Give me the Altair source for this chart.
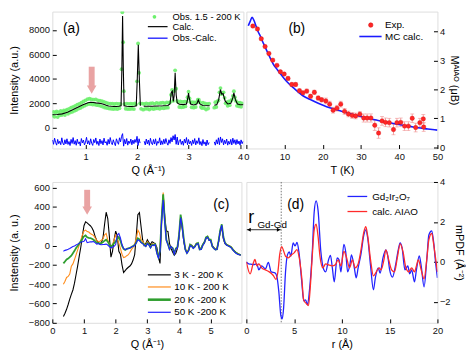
import altair as alt
import pandas as pd
import numpy as np

FONT = "Liberation Sans"

# ---------------- Panel (a): diffraction, Obs. 1.5 - 200 K ----------------
a_obs = [
    (0.36, 1000), (0.38, 1300), (0.40, 900), (0.42, 1250), (0.44, 1350), (0.46, 880), (0.48, 1280), (0.50, 1020), (0.52, 1380), (0.54, 1050),
    (0.56, 1300), (0.58, 1420), (0.60, 1050), (0.62, 1400), (0.64, 1480), (0.66, 1150), (0.68, 1550), (0.70, 1250), (0.72, 1650), (0.74, 1300),
    (0.76, 1720), (0.78, 1380), (0.80, 1800), (0.82, 1450), (0.84, 1900), (0.86, 1550), (0.88, 1950), (0.90, 1620), (0.92, 2050), (0.94, 1720),
    (0.96, 2150), (0.98, 1800), (1.00, 2250), (1.02, 1880), (1.04, 2350), (1.06, 1950), (1.08, 2380), (1.10, 1950), (1.12, 2320), (1.14, 1900),
    (1.16, 2300), (1.18, 1900), (1.20, 2330), (1.22, 1850), (1.24, 2250), (1.26, 1830), (1.28, 2220), (1.30, 1780), (1.32, 2180), (1.34, 1720),
    (1.36, 2120), (1.38, 1650), (1.40, 2050), (1.42, 1620), (1.44, 2000), (1.46, 1580), (1.48, 1980), (1.50, 1560), (1.52, 1970), (1.54, 1540),
    (1.56, 1950), (1.58, 1560), (1.60, 1980), (1.62, 1540), (1.64, 1950), (1.66, 1600), (1.68, 1950), (1.70, 4800), (1.715, 9450), (1.73, 7000),
    (1.745, 3000), (1.76, 1950), (1.78, 1560), (1.80, 1980), (1.82, 1530), (1.84, 1960), (1.86, 1540), (1.88, 1970), (1.90, 1560), (1.92, 1950),
    (1.94, 1530), (1.96, 2000), (1.98, 1900), (2.00, 3800), (2.02, 6900), (2.04, 4500), (2.06, 2000), (2.08, 1550), (2.10, 1980), (2.12, 1480),
    (2.14, 1950), (2.16, 1550), (2.18, 2000), (2.20, 1560), (2.22, 1960), (2.24, 1500), (2.26, 1990), (2.28, 1580), (2.30, 2020), (2.32, 1540),
    (2.34, 1960), (2.36, 1580), (2.38, 2040), (2.40, 1600), (2.42, 2000), (2.44, 1550), (2.46, 2030), (2.48, 1620), (2.50, 2060), (2.52, 1600),
    (2.54, 2010), (2.56, 1640), (2.58, 2080), (2.60, 1650), (2.62, 2040), (2.64, 2100), (2.66, 2700), (2.68, 3100), (2.70, 2200), (2.72, 3000),
    (2.74, 4700), (2.76, 3200), (2.78, 2200), (2.80, 2100), (2.82, 1700), (2.84, 2150), (2.86, 1680), (2.88, 2120), (2.90, 1700), (2.92, 2140),
    (2.94, 1750), (2.96, 2150), (2.98, 2500), (3.00, 2950), (3.02, 2400), (3.04, 2100), (3.06, 1680), (3.08, 2100), (3.10, 1650), (3.12, 2080),
    (3.14, 1700), (3.16, 2100), (3.18, 2300), (3.20, 2300), (3.22, 2100), (3.24, 1700), (3.26, 1620), (3.28, 2050), (3.30, 1620), (3.32, 2000),
    (3.34, 1500), (3.36, 1950), (3.38, 1580), (3.40, 1980),
    (3.50, 1650), (3.52, 2100), (3.54, 1700), (3.56, 2150), (3.58, 2250), (3.60, 2900), (3.62, 3250), (3.64, 2750), (3.66, 2850), (3.68, 2900),
    (3.70, 2450), (3.72, 2000), (3.74, 2100), (3.76, 1800), (3.78, 2150), (3.80, 1850), (3.82, 2200), (3.84, 2300), (3.86, 2600), (3.88, 3000),
    (3.90, 2500), (3.92, 2200), (3.94, 1800), (3.96, 2050), (3.98, 1750), (4.00, 2050), (4.02, 1720), (4.04, 2000),
]

a_calc_q1 = [0.356, 0.45, 0.55, 0.65, 0.75, 0.85, 0.95, 1.05, 1.10, 1.15, 1.20, 1.25, 1.30, 1.35, 1.40, 1.45, 1.50,
             1.55, 1.60, 1.65, 1.69, 1.705, 1.72, 1.735, 1.75, 1.80, 1.85, 1.90, 1.95, 1.985, 2.005, 2.025, 2.045, 2.065]
a_calc_i1 = [1070, 1090, 1140, 1280, 1470, 1680, 1880, 2050, 2090, 2070, 2040, 2020, 1990, 1920, 1840, 1790, 1760,
             1750, 1750, 1760, 1800, 4600, 9150, 4600, 1800, 1760, 1750, 1750, 1760, 1800, 4000, 6800, 4000, 1800]
a_calc_q2 = [2.13, 2.30, 2.50, 2.60, 2.64, 2.665, 2.685, 2.705, 2.72, 2.74, 2.76, 2.78, 2.82, 2.90, 2.96, 2.985,
             3.00, 3.015, 3.04, 3.10, 3.16, 3.19, 3.22, 3.28, 3.41]
a_calc_i2 = [1760, 1770, 1800, 1830, 1950, 2900, 3000, 2150, 2600, 4500, 2700, 2050, 1920, 1900, 1950, 2400,
             2850, 2400, 1950, 1870, 1950, 2280, 1950, 1830, 1800]
a_calc_q3 = [3.50, 3.55, 3.585, 3.62, 3.645, 3.67, 3.71, 3.76, 3.82, 3.86, 3.88, 3.91, 3.95, 4.00, 4.065]
a_calc_i3 = [1850, 1900, 2300, 3120, 2750, 2800, 2200, 1950, 2000, 2450, 2850, 2300, 1950, 1880, 1880]

a_diff_start = [0.36, 2.14, 3.50]
a_diff_step = 0.02
a_diff_1 = [
    -1000, -1350, -850, -1200, -1420, -950, -1300, -1100, -1380, -820,
    -1250, -1400, -980, -1320, -900, -1360, -1120, -1450, -950, -1280,
    -800, -1340, -1050, -1430, -930, -1300, -1150, -1480, -880, -1240,
    -1000, -1400, -1180, -780, -1330, -1060, -1390, -900, -1260, -1440,
    -960, -1220, -830, -1350, -1100, -1450, -920, -1300, -1050, -1400,
    -850, -1240, -1130, -1430, -950, -1330, -800, -1200, -1380, -980,
    -1260, -1460, -900, -1150, -1350, -820, -1150, -700, -480, -1500,
    -950, -1320, -880, -1420, -1080, -1280, -920, -1390, -1000, -1300,
    -950, -1200, -700, -1450, -900, -1250,
]
a_diff_2 = [
    -1100, -1400, -920, -1320, -1000, -1430, -860, -1250, -1380, -960,
    -1330, -900, -1440, -1120, -1260, -820, -1400, -1060, -1360, -940,
    -1300, -880, -1220, -1420, -980, -1280, -800, -1150, -650, -1000,
    -550, -1350, -760, -1400, -1050, -950, -1360, -1080, -1430, -930,
    -1250, -800, -1380, -960, -1320, -1100, -1440, -990, -1300, -880,
    -1400, -1060, -1280, -820, -1380, -1120, -1460, -960, -1340, -1150,
    -1480, -1000, -1380, -1200,
]
a_diff_3 = [
    -1150, -1420, -980, -1330, -820, -1380, -750, -1200, -900, -1400,
    -1020, -1300, -920, -1420, -1100, -1340, -950, -1400, -850, -1280,
    -980, -1380, -960, -1320, -1080, -1420, -990, -1300, -1100,
]
a_arrow_q = [1.12]
a_arrow_top = [5000]
a_arrow_neck = [3350]
a_arrow_head = [3130]

# ---------------- Panel (b): M_AIAO vs T ----------------
b_T = [1.7, 2.9, 3.9, 4.9, 5.9, 6.9, 8.0, 8.9, 9.9, 10.9, 11.9, 12.9, 13.9, 14.8, 15.8, 16.8, 17.8, 18.8, 19.7, 20.8,
       21.8, 22.7, 23.7, 24.7, 25.7, 26.7, 27.7, 28.6, 29.7, 30.7, 31.6, 32.6, 33.6, 34.6, 35.5, 36.4, 37.4, 38.5, 39.4,
       40.4, 41.4, 42.4, 43.4, 44.3, 45.4, 46.3, 46.4]
b_M = [4.19, 4.09, 3.75, 3.48, 3.24, 3.01, 2.83, 2.61, 2.53, 2.38, 2.17, 2.17, 1.95, 1.88, 1.94, 1.76, 1.90, 1.70, 1.64, 1.60,
       1.49, 1.28, 1.35, 1.49, 1.24, 1.15, 1.10, 1.08, 1.14, 1.01, 1.01, 1.01, 0.76, 0.49, 0.91, 0.86, 0.85, 0.61, 0.85,
       0.86, 0.73, 0.73, 1.00, 0.68, 0.85, 0.98, 0.70]
b_err = [0.04, 0.04, 0.04, 0.04, 0.04, 0.04, 0.04, 0.04, 0.04, 0.07, 0.07, 0.07, 0.07, 0.07, 0.07, 0.07, 0.07, 0.07, 0.07, 0.10,
         0.10, 0.10, 0.10, 0.10, 0.10, 0.10, 0.10, 0.10, 0.10, 0.14, 0.14, 0.14, 0.18, 0.18, 0.15, 0.15, 0.15, 0.18, 0.15,
         0.15, 0.15, 0.15, 0.15, 0.15, 0.15, 0.15, 0.15]
b_mc_T = [0.5, 1.0, 1.5, 2.0, 2.5, 3.0, 3.7, 4.5, 5.4, 6.2, 7.1, 8.0, 8.8, 10.5, 12.7, 14.8, 17.0, 19.1, 21.0, 23.4,
          25.5, 27.7, 30.0, 32.0, 34.0, 36.3, 38.5, 40.6, 42.8, 44.9, 47.5, 50.0]
b_mc_M = [4.20, 4.35, 4.49, 4.38, 4.20, 4.02, 3.83, 3.58, 3.32, 3.10, 2.86, 2.70, 2.56, 2.28, 2.01, 1.78, 1.63, 1.50, 1.40, 1.30,
          1.22, 1.14, 1.06, 0.99, 0.94, 0.875, 0.82, 0.77, 0.72, 0.67, 0.63, 0.59]

# ---------------- Panel (c): difference patterns ----------------
c_q = list(np.round(np.arange(0.35, 5.951, 0.05), 2))
c_3K = [
    -735, -700, -660, -610, -555, -505, -460, -390, -300, -210,
    -110, -15, 100, 205, 245, 235, 220, 205, 185, 150,
    95, 55, 30, 20, 30, 80, 220, 345, 280, 100,
    -120, -60, 60, 150, 100, -60, -90, -200, -280, -260,
    -240, -225, -212, -190, -150, -94, 100, 320, 340, 200,
    60, 0, 20, 60, 30, 10, 40, 30, 15, -20,
    -120, -185, 250, 520, 300, 150, 145, 20, -30, -70,
    -100, -80, -30, 80, 270, 180, 40, -40, -70, -50,
    0, 5, -20, -10, 20, 15, -30, -25, 10, 40,
    70, 90, 55, 50, 0, -20, -40, -30, 40, 140,
    190, 70, 20, 5, 0, -10, -20, -45, -55, -70,
    -85, -90, -95,
]
c_10K = [
    -400, -370, -330, -320, -295, -215, -190, -145, -95, -45,
    5, 55, 110, 150, 160, 145, 140, 125, 115, 105,
    80, 55, 40, 45, 55, 70, 110, 125, 60, 15,
    -25, 10, 60, 110, 70, 25, -30, -90, -125, -120,
    -105, -95, -70, -40, -20, 20, 70, 160, 130, 60,
    45, 20, 5, 40, 15, -15, 20, 10, 20, -60,
    -110, -40, 300, 550, 280, 60, 20, -40, -20, -30,
    -70, -40, -20, 100, 300, 200, 60, -30, -70, -40,
    10, 0, -25, -5, 25, 20, -35, -30, 5, 30,
    80, 95, 60, 55, -5, -25, -42, -35, 45, 150,
    200, 80, 25, 10, 5, -5, -15, -40, -60, -75,
    -80, -95, -100,
]
c_20K = [
    -185, -165, -145, -135, -120, -105, -80, -55, -25, -5,
    20, 45, 70, 95, 105, 85, 80, 78, 70, 60,
    45, 30, 25, 22, 25, 35, 50, 60, 40, 10,
    -10, 5, 25, 40, 70, 90, 50, -5, -35, -45,
    -35, -30, -25, -15, -5, 5, 30, 75, 65, 35,
    25, 10, -5, 25, 10, -20, 10, 5, 15, -70,
    -120, -50, 280, 530, 260, 60, 15, -35, -15, -25,
    -80, -30, -15, 110, 320, 220, 70, -42, -76, -50,
    9, -5, -25, -10, 20, 26, -40, -35, 9, 30,
    85, 94, 60, 60, -8, -30, -42, -38, 50, 160,
    220, 90, 30, 9, 0, -8, -20, -42, -60, -76,
    -85, -93, -98,
]
c_50K = [
    -58, -50, -45, -38, -30, -20, -10, -5, 5, 15,
    25, 35, 40, 45, 70, 30, 35, 40, 38, 42,
    30, 15, 20, 12, 8, 10, 12, 15, 5, -10,
    -25, -15, -8, 10, 110, 125, 80, 10, -30, -42,
    -35, -30, -25, -15, -8, 0, 30, 60, 50, 30,
    20, 5, -8, 20, 5, -25, 5, 0, 10, -80,
    -130, -60, 250, 470, 240, 50, 10, -42, -10, -30,
    -90, -35, -25, 100, 290, 190, 50, -45, -80, -55,
    0, -10, -30, -15, 15, 20, -42, -40, 0, 25,
    75, 85, 55, 50, -10, -30, -45, -40, 40, 150,
    210, 80, 25, 5, -5, -10, -25, -45, -65, -80,
    -90, -95, -100,
]
c_names = ["\u00a03 K - 200 K", "10 K - 200 K", "20 K -200 K", "50 K -200 K"]
c_colors = ["#000000", "#ff8c1a", "#2e9e2e", "#1f1fff"]
c_widths = [1.1, 1.1, 1.8, 1.1]
c_arrow_q = [1.10]
c_arrow_top = [577]
c_arrow_neck = [395]
c_arrow_head = [362]

# ---------------- Panel (d): mPDF ----------------
d_exp = [(0, 0), (0.25, -0.1), (0.55, -0.12), (0.85, -0.13), (1.1, -0.1), (1.3, -0.4), (1.6, -0.2), (2.0, -0.35), (2.3, -0.02),
         (2.6, -0.5), (3.0, -0.55), (3.2, -0.75), (3.4, -1.5), (3.6, -2.65), (3.75, -2.85), (3.9, -2.3), (4.1, -0.5), (4.3, 0.35),
         (4.5, 0.5), (4.65, 0.28), (4.9, 0.95), (5.1, 0.8), (5.3, 0.97), (5.5, 0.5), (5.8, -1.0), (6.0, -1.95), (6.2, -1.9),
         (6.4, -2.15), (6.6, -1.45), (6.9, 0.5), (7.1, 2.5), (7.3, 3.05), (7.5, 2.6), (7.8, 0.5), (8.1, -0.38), (8.3, -0.5),
         (8.6, 0.1), (8.8, 0.33), (9.0, -0.3), (9.2, -1.0), (9.5, 0.2), (9.7, 0.1), (9.9, -0.5), (10.2, 0.88), (10.4, 0.5),
         (10.6, -0.5), (10.85, -0.1), (11.0, 0.35), (11.3, -0.3), (11.5, -0.8), (11.7, -0.3), (12.0, 0.4), (12.3, 1.35),
         (12.5, 1.6), (12.7, 1.2), (13.0, -0.2), (13.3, -1.4), (13.5, -0.8), (13.8, -0.3), (14.0, -0.56), (14.3, 0.2),
         (14.6, 0.6), (14.8, 0.3), (15.0, -0.4), (15.3, -0.76), (15.6, -0.2), (15.9, 0.6), (16.1, 0.95), (16.3, 0.7),
         (16.6, -0.4), (16.9, -0.2), (17.1, -0.6), (17.3, -0.4), (17.6, -1.0), (17.8, -0.4), (18.1, 0.3), (18.3, -0.2),
         (18.6, -1.25), (18.9, 0.2), (19.1, 1.35), (19.4, 1.55), (19.6, 1.0), (19.8, 0.0), (20.0, -0.8)]
d_calc = [(0, 0), (0.4, -0.6), (0.7, -0.1), (0.9, 0.12), (1.1, -0.2), (1.3, -0.1), (1.6, -0.3), (2.0, -0.4), (2.4, -0.5),
          (2.8, -0.67), (3.1, -0.87), (3.3, -0.5), (3.5, 0.4), (3.7, 0.76), (3.9, 0.55), (4.1, 0.28), (4.4, 0.2), (4.7, 0.35),
          (5.0, 0.45), (5.3, 0.61), (5.5, 0.3), (5.8, -0.8), (6.0, -1.9), (6.3, -2.1), (6.5, -2.19), (6.7, -1.2), (6.9, 0.3),
          (7.1, 1.6), (7.3, 1.89), (7.5, 1.3), (7.7, 0.3), (8.0, -0.3), (8.3, -0.1), (8.6, -0.15), (9.0, -0.2), (9.3, -0.15),
          (9.6, 0.1), (9.9, -0.2), (10.2, 0.53), (10.5, 0.2), (10.8, -0.3), (11.1, 0.1), (11.4, -0.3), (11.7, -0.1),
          (12.0, 0.6), (12.3, 1.5), (12.5, 1.76), (12.7, 1.3), (13.0, 0.1), (13.3, -0.7), (13.6, -0.5), (13.9, -0.3),
          (14.1, -0.4), (14.4, 0.1), (14.6, 0.6), (14.9, 0.1), (15.2, -0.4), (15.5, -0.5), (15.8, 0.2), (16.1, 0.9),
          (16.4, 0.5), (16.7, -0.3), (17.0, -0.5), (17.3, -0.3), (17.6, -0.5), (17.8, -0.2), (18.0, 0.1), (18.3, -0.4),
          (18.6, -0.85), (18.9, 0.2), (19.1, 1.1), (19.4, 1.43), (19.6, 0.9), (19.8, 0.2), (20.0, -0.5)]
d_r_gdgd = 3.65
d_arrow_y = 1.61

PINK = "#e9a3a3"


def axis(orient, values, title, fmt=None, label_pad=3, title_pad=4):
    kw = dict(values=values, title=title, orient=orient, offset=-4, tickSize=4, domain=False, grid=False,
              labelPadding=label_pad, titlePadding=title_pad, tickColor="#000", tickWidth=1,
              labelColor="#111", titleColor="#000", labelFont=FONT, titleFont=FONT, labelFontSize=9.5,
              titleFontSize=11, titleFontWeight="normal", labelFlush=False, labelOverlap=False)
    if fmt:
        kw["format"] = fmt
    return alt.Axis(**kw)


def make_xy(xdom, ydom, xax, yax):
    def X(f):
        return alt.X(f"{f}:Q", scale=alt.Scale(domain=xdom, nice=False, zero=False), axis=xax)

    def Y(f):
        return alt.Y(f"{f}:Q", scale=alt.Scale(domain=ydom, nice=False, zero=False), axis=yax)
    return X, Y


one = pd.DataFrame({"k": [0]})


def txt(s, x, y, size=10, align="left", baseline="middle", style="normal"):
    return alt.Chart(one).mark_text(text=s, align=align, baseline=baseline, font=FONT, fontSize=size,
                                    fontStyle=style, color="#000").encode(x=alt.value(x), y=alt.value(y))


def seg(x1, x2, y, color, w=1.3):
    return alt.Chart(one).mark_rule(color=color, strokeWidth=w).encode(
        x=alt.value(x1), x2=alt.value(x2), y=alt.value(y))


def dot(x, y, color, size, stroke=None):
    kw = dict(color=color, size=size, opacity=1)
    if stroke:
        kw["stroke"] = stroke
        kw["strokeWidth"] = 0.6
    return alt.Chart(one).mark_circle(**kw).encode(x=alt.value(x), y=alt.value(y))


# ---------- build panel (a) ----------
Xa, Ya = make_xy([0.356, 4.065], [-1693, 9511],
                 axis("bottom", [1, 2, 3, 4], "Q (Å⁻¹)", label_pad=3),
                 axis("left", [0, 2000, 4000, 6000, 8000], "Intensity (a.u.)", fmt="d", title_pad=9))
df_obs = pd.DataFrame(a_obs, columns=["q", "v"])
calc_rows = []
for s, (qq, ii) in enumerate([(a_calc_q1, a_calc_i1), (a_calc_q2, a_calc_i2), (a_calc_q3, a_calc_i3)]):
    calc_rows += [{"q": q, "v": v, "seg": s} for q, v in zip(qq, ii)]
df_calc = pd.DataFrame(calc_rows)
diff_rows = []
for s, (st, vals) in enumerate(zip(a_diff_start, [a_diff_1, a_diff_2, a_diff_3])):
    diff_rows += [{"q": round(st + a_diff_step * k, 3), "v": v, "seg": s} for k, v in enumerate(vals)]
df_diff = pd.DataFrame(diff_rows)
df_aarrow = pd.DataFrame({"q": a_arrow_q, "v": a_arrow_top, "v2": a_arrow_neck, "h": a_arrow_head})

pa = alt.layer(
    alt.Chart(df_obs).mark_circle(size=15, color="#6cf06c", opacity=0.9, clip=True).encode(x=Xa("q"), y=Ya("v")),
    alt.Chart(df_calc).mark_line(color="#000", strokeWidth=1.1, clip=True).encode(x=Xa("q"), y=Ya("v"), detail="seg:N"),
    alt.Chart(df_diff).mark_line(color="#0000ff", strokeWidth=1.0, clip=True).encode(x=Xa("q"), y=Ya("v"), detail="seg:N"),
    alt.Chart(df_aarrow).mark_rule(color=PINK, strokeWidth=6).encode(x=Xa("q"), y=Ya("v"), y2=alt.Y2("v2:Q")),
    alt.Chart(df_aarrow).mark_point(shape="triangle-down", filled=True, size=95, color=PINK, opacity=1).encode(x=Xa("q"), y=Ya("h")),
    dot(103.7, 5.3, "#6cf06c", 14),
    txt("Obs. 1.5 - 200 K", 122, 5.5, size=9.5),
    seg(97, 117, 15.3, "#000", 1.2),
    txt("Calc.", 122, 15.5, size=9.5),
    seg(97, 117, 27, "#0000ff", 1.2),
    txt("Obs.-Calc.", 122, 27.2, size=9.5),
    txt("(a)", 19.3, 18, size=14, align="center"),
).properties(width=194, height=139)

# ---------- build panel (b) ----------
Xb, Yb = make_xy([0, 50], [-0.044, 4.69],
                 axis("bottom", [0, 10, 20, 30, 40, 50], "T (K)", label_pad=3),
                 axis("right", [0, 1, 2, 3, 4], "M\u1d2c\u1d35\u1d2c\u1d3c (μB)", label_pad=2, title_pad=4))
df_b = pd.DataFrame({"t": b_T, "m": b_M, "e": b_err})
df_b["lo"] = df_b["m"] - df_b["e"]
df_b["hi"] = df_b["m"] + df_b["e"]
df_mc = pd.DataFrame({"t": b_mc_T, "m": b_mc_M})
ERR = "#f08c8c"
pb = alt.layer(
    alt.Chart(df_b).mark_rule(color=ERR, strokeWidth=0.8).encode(x=Xb("t"), y=Yb("lo"), y2=alt.Y2("hi:Q")),
    alt.Chart(df_b).mark_tick(color=ERR, orient="horizontal", size=4, thickness=0.8).encode(x=Xb("t"), y=Yb("lo")),
    alt.Chart(df_b).mark_tick(color=ERR, orient="horizontal", size=4, thickness=0.8).encode(x=Xb("t"), y=Yb("hi")),
    alt.Chart(df_mc).mark_line(color="#1a1aff", strokeWidth=1.6, interpolate="monotone", clip=True).encode(x=Xb("t"), y=Yb("m")),
    alt.Chart(df_b).mark_circle(size=20, color="#ff2626", stroke="#d81010", strokeWidth=0.4, opacity=1).encode(x=Xb("t"), y=Yb("m")),
    dot(126.3, 13.7, "#ff2626", 20, "#d81010"),
    txt("Exp.", 140.7, 13.9),
    seg(114.7, 137.3, 25.3, "#1a1aff", 1.6),
    txt("MC calc.", 140.7, 25.5),
    txt("(b)", 51.2, 18, size=14, align="center"),
).properties(width=194, height=139)

# ---------- build panel (c) ----------
Xc, Yc = make_xy([0, 5.97], [-800, 658],
                 axis("bottom", [0, 1, 2, 3, 4, 5], "Q (Å⁻¹)", label_pad=3),
                 axis("left", [-800, -600, -400, -200, 0, 200, 400, 600], "Instensity (a. u.)", fmt="d", title_pad=9))
c_layers = []
for name, vals, col, w in zip(c_names, [c_3K, c_10K, c_20K, c_50K], c_colors, c_widths):
    dfc = pd.DataFrame({"q": c_q, "v": vals})
    c_layers.append(alt.Chart(dfc).mark_line(color=col, strokeWidth=w, clip=True).encode(x=Xc("q"), y=Yc("v")))
df_carrow = pd.DataFrame({"q": c_arrow_q, "v": c_arrow_top, "v2": c_arrow_neck, "h": c_arrow_head})
c_leg = []
for i, (name, col, w) in enumerate(zip(c_names, c_colors, c_widths)):
    yy = [94.3, 106.6, 119.5, 132.3][i]
    c_leg.append(seg(97, 120.3, yy, col, 1.2 if w < 1.5 else 2.6))
    c_leg.append(txt(name, 123.7, yy + 0.2))
pc = alt.layer(
    *c_layers,
    alt.Chart(df_carrow).mark_rule(color=PINK, strokeWidth=6).encode(x=Xc("q"), y=Yc("v"), y2=alt.Y2("v2:Q")),
    alt.Chart(df_carrow).mark_point(shape="triangle-down", filled=True, size=95, color=PINK, opacity=1).encode(x=Xc("q"), y=Yc("h")),
    *c_leg,
    txt("(c)", 171.5, 23, size=14, align="center"),
).properties(width=192, height=143)

# ---------- build panel (d) ----------
Xd, Yd = make_xy([0, 20], [-3.05, 4],
                 axis("bottom", [0, 5, 10, 15, 20], "r (Å)", label_pad=3),
                 axis("right", [-2, 0, 2, 4], "mPDF (Å⁻²)", label_pad=2, title_pad=4))
df_de = pd.DataFrame(d_exp, columns=["r", "v"])
df_dc = pd.DataFrame(d_calc, columns=["r", "v"])
df_vl = pd.DataFrame({"r": [d_r_gdgd]})
df_arr = pd.DataFrame({"r": [0.05], "r2": [d_r_gdgd - 0.05], "v": [d_arrow_y]})
df_hl = pd.DataFrame({"r": [0.28], "v": [d_arrow_y]})
df_hr = pd.DataFrame({"r": [d_r_gdgd - 0.28], "v": [d_arrow_y]})
df_rlab = pd.DataFrame({"r": [0.2], "v": [1.94]})
df_glab = pd.DataFrame({"r": [1.16], "v": [1.70]})
pdd = alt.layer(
    alt.Chart(df_vl).mark_rule(color="#555", strokeWidth=0.8, strokeDash=[1.5, 1.5]).encode(x=Xd("r")),
    alt.Chart(df_de).mark_line(color="#2222ff", strokeWidth=1.3, interpolate="monotone", clip=True).encode(x=Xd("r"), y=Yd("v")),
    alt.Chart(df_dc).mark_line(color="#ff2a2a", strokeWidth=1.3, interpolate="monotone", clip=True).encode(x=Xd("r"), y=Yd("v")),
    alt.Chart(df_arr).mark_rule(color="#000", strokeWidth=0.8).encode(x=Xd("r"), x2=alt.X2("r2:Q"), y=Yd("v")),
    alt.Chart(df_hl).mark_point(shape="triangle-left", filled=True, size=16, color="#000", opacity=1).encode(x=Xd("r"), y=Yd("v")),
    alt.Chart(df_hr).mark_point(shape="triangle-right", filled=True, size=16, color="#000", opacity=1).encode(x=Xd("r"), y=Yd("v")),
    alt.Chart(df_rlab).mark_text(text="r", align="left", baseline="alphabetic", font=FONT, fontSize=18, color="#000").encode(x=Xd("r"), y=Yd("v")),
    alt.Chart(df_glab).mark_text(text="Gd-Gd", align="left", baseline="alphabetic", font=FONT, fontSize=10, color="#000").encode(x=Xd("r"), y=Yd("v")),
    seg(102.7, 122.7, 14.7, "#2222ff", 1.3),
    txt("Gd₂Ir₂O₇", 127.7, 15),
    seg(102.7, 122.7, 30, "#ff2a2a", 1.3),
    txt("calc. AIAO", 127.7, 30.2),
    txt("(d)", 50, 23.5, size=14, align="center"),
).properties(width=194, height=143)

chart = alt.concat(pa, pb, pc, pdd, columns=2, spacing={"row": 34, "column": 3}).properties(
    bounds="flush", padding=0
).resolve_scale(x="independent", y="independent").configure_view(
    stroke="#000", strokeWidth=1
).configure(font=FONT, background="white")

chart.save("out.html", embed_options={"renderer": "svg", "actions": False})
